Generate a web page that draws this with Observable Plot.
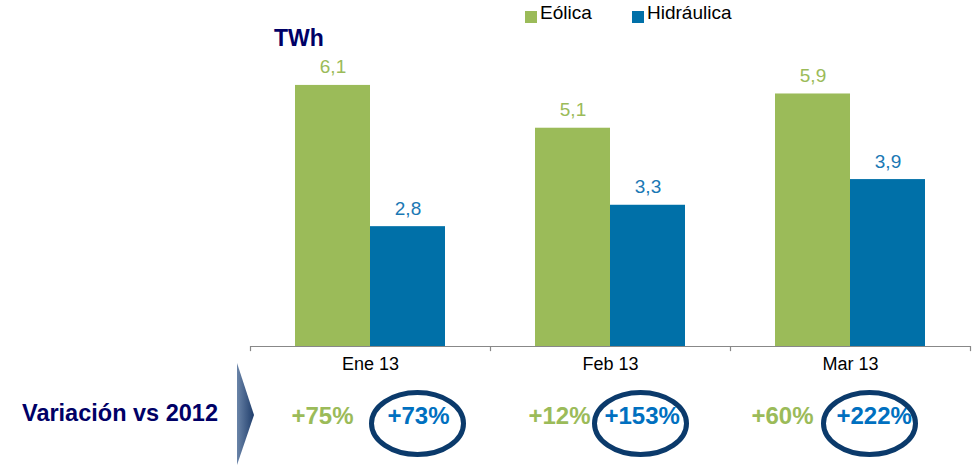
<!DOCTYPE html>
<html><head><meta charset="utf-8">
<script src="https://cdn.jsdelivr.net/npm/d3@7"></script>
<script src="https://cdn.jsdelivr.net/npm/@observablehq/plot@0.6"></script>
<style>
body{margin:0;background:#fff;font-family:Arial,"Liberation Sans",sans-serif;}
#wrap{position:relative;width:972px;height:465px;overflow:hidden;}
#chart{position:absolute;left:0;top:0;}
.leg{position:absolute;top:0;height:30px;font-size:19px;color:#000;}
.sw{position:absolute;width:12px;height:12px;top:11px;}
.lt{position:absolute;top:2px;white-space:nowrap;}
#unit{position:absolute;left:274px;top:25px;font-size:23px;font-weight:bold;color:#000066;}
#var{position:absolute;left:22px;top:400px;font-size:23.5px;font-weight:bold;color:#000066;white-space:nowrap;}
#arrow{position:absolute;left:237px;top:363px;width:17px;height:102px;clip-path:polygon(0 0,100% 51%,0 100%);background:linear-gradient(to right,#6a84a8,#1f3d6b);}
</style></head><body>
<div id="wrap">
<div id="chart"></div>
<div id="legend"></div>
<div id="unit">TWh</div>
<div id="var">Variación vs 2012</div>
<div id="arrow"></div>
</div>
<script>
const months = ["Ene 13", "Feb 13", "Mar 13"];
const seriesNames = ["Eólica", "Hidráulica"];
const eolica = [6.1, 5.1, 5.9];
const hidraulica = [2.8, 3.3, 3.9];
const varEolica = ["+75%", "+12%", "+60%"];
const varHidraulica = ["+73%", "+153%", "+222%"];

const GREEN = "#9BBB59", BLUE = "#0070A8", LBLUE = "#1A78B4", PBLUE = "#0070C0", RING = "#0B3A6B";
const rows = months.map((m, i) => ({month: m, eol: eolica[i], hid: hidraulica[i], ve: varEolica[i], vh: varHidraulica[i]}));
const fmt = v => v.toFixed(1).replace(".", ",");

// per-month placement of the variation annotations (pixels relative to band centre)
const layoutG = [-17, -20, -37];
const layoutB = [17, -6, -14];
const layoutE = [47, 30, 19];

const ellipse = {draw(ctx) {
  const rx = 46, ry = 31, k = 0.5523;
  ctx.moveTo(rx, 0);
  ctx.bezierCurveTo(rx, ry * k, rx * k, ry, 0, ry);
  ctx.bezierCurveTo(-rx * k, ry, -rx, ry * k, -rx, 0);
  ctx.bezierCurveTo(-rx, -ry * k, -rx * k, -ry, 0, -ry);
  ctx.bezierCurveTo(rx * k, -ry, rx, -ry * k, rx, 0);
  ctx.closePath();
}};

const varMarks = months.flatMap((m, i) => [
  Plot.text([rows[i]], {x: "month", text: "ve", frameAnchor: "bottom", dy: 77, dx: layoutG[i], textAnchor: "end", fill: GREEN, fontWeight: "bold", fontSize: 24}),
  Plot.text([rows[i]], {x: "month", text: "vh", frameAnchor: "bottom", dy: 77, dx: layoutB[i], textAnchor: "start", fill: PBLUE, fontWeight: "bold", fontSize: 24}),
  Plot.dot([rows[i]], {x: "month", frameAnchor: "bottom", dy: 77, dx: layoutE[i], symbol: ellipse, fill: "none", stroke: RING, strokeWidth: 5})
]);

const plot = Plot.plot({
  width: 972, height: 465,
  marginLeft: 250, marginRight: 2, marginTop: 0, marginBottom: 119,
  x: {type: "band", domain: months, padding: 0, axis: null},
  y: {domain: [0, 8], range: [346, 346 - 8 * 42.8], axis: null},
  style: {fontFamily: "Arial, 'Liberation Sans', sans-serif", background: "transparent", overflow: "visible"},
  marks: [
    Plot.barY(rows, {x: "month", y: "eol", fill: GREEN, insetLeft: 45, insetRight: 120}),
    Plot.barY(rows, {x: "month", y: "hid", fill: BLUE, insetLeft: 120, insetRight: 45}),
    Plot.text(rows, {x: "month", y: "eol", text: d => fmt(d.eol), dx: -37.5, dy: -12, lineAnchor: "bottom", fill: GREEN, fontSize: 19}),
    Plot.text(rows, {x: "month", y: "hid", text: d => fmt(d.hid), dx: 37.5, dy: -12, lineAnchor: "bottom", fill: LBLUE, fontSize: 19}),
    Plot.ruleY([0], {stroke: "#888", strokeWidth: 1.2}),
    Plot.ruleX(months, {x: d => d, y1: 0, y2: -0.12, dx: -120, stroke: "#888", strokeWidth: 1.2}),
    Plot.ruleX([months[months.length - 1]], {x: d => d, y1: 0, y2: -0.12, dx: 120, stroke: "#888", strokeWidth: 1.2}),
    Plot.text(months, {x: d => d, frameAnchor: "bottom", dy: 23, fontSize: 18, fill: "#000"}),
    ...varMarks
  ]
});
document.getElementById("chart").appendChild(plot);

// legend
const legColors = [GREEN, BLUE];
const legX = [525, 632];
const leg = document.getElementById("legend");
seriesNames.forEach((s, i) => {
  const sw = document.createElement("div");
  sw.className = "sw"; sw.style.left = legX[i] + "px"; sw.style.background = legColors[i];
  const t = document.createElement("div");
  t.className = "leg lt"; t.style.left = (legX[i] + 15) + "px"; t.textContent = s;
  leg.appendChild(sw); leg.appendChild(t);
});
</script>
</body></html>
